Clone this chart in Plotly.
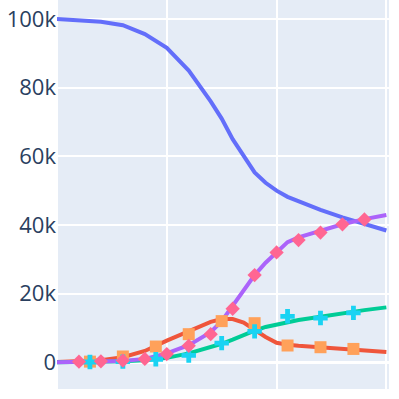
import plotly.graph_objects as go

# model curves (x in days)
x_line = [0, 10, 20, 30, 40, 50, 60, 70, 75, 80, 85, 90, 95, 100, 105, 110, 120, 130, 140, 150]
susceptible = [100000, 99700, 99200, 98200, 95600, 91600, 85000, 76000, 71000, 65000, 60000, 55300, 52300, 50000, 48200, 46900, 44400, 42200, 40200, 38400]
infected = [100, 300, 600, 1500, 3300, 6300, 9200, 11800, 12600, 12600, 11600, 9500, 7400, 5700, 5100, 4800, 4400, 4000, 3500, 3000]
recovered = [0, 50, 100, 300, 600, 1300, 2600, 4300, 5400, 6600, 8000, 9200, 10300, 11000, 11700, 12300, 13300, 14300, 15200, 16000]
dead = [0, 100, 200, 400, 1000, 2600, 5000, 8800, 12000, 16400, 21000, 25400, 29000, 32200, 35000, 36400, 38300, 40200, 41700, 42900]

# observed data
x_obs15 = [15, 30, 45, 60, 75, 90, 105, 120, 135]
infected_obs = [200, 1700, 4600, 8200, 12000, 11400, 4900, 4400, 3900]
recovered_obs = [100, 200, 900, 2000, 5600, 9000, 13400, 12900, 14400]
x_obs10 = [10, 20, 30, 40, 50, 60, 70, 80, 90, 100, 110, 120, 130, 140]
dead_obs = [200, 300, 500, 1000, 2400, 4800, 8200, 15600, 25400, 32000, 35600, 37800, 40200, 41600]

fig = go.Figure()
fig.add_trace(go.Scatter(x=x_line, y=susceptible, mode="lines", line=dict(color="#636EFA", width=4)))
fig.add_trace(go.Scatter(x=x_line, y=infected, mode="lines", line=dict(color="#EF553B", width=4)))
fig.add_trace(go.Scatter(x=x_line, y=recovered, mode="lines", line=dict(color="#00CC96", width=4)))
fig.add_trace(go.Scatter(x=x_line, y=dead, mode="lines", line=dict(color="#AB63FA", width=4)))
fig.add_trace(go.Scatter(x=x_obs15, y=infected_obs, mode="markers",
                         marker=dict(color="#FFA15A", symbol="square", size=12)))
fig.add_trace(go.Scatter(x=x_obs15, y=recovered_obs, mode="markers",
                         marker=dict(color="#19D3F3", symbol="cross", size=12)))
fig.add_trace(go.Scatter(x=x_obs10, y=dead_obs, mode="markers",
                         marker=dict(color="#FF6692", symbol="diamond", size=11)))

fig.update_layout(
    width=399, height=399,
    template="plotly",
    showlegend=False,
    margin=dict(l=57, r=10, t=0, b=10, autoexpand=False),
    font=dict(size=22),
)
fig.update_xaxes(range=[0, 151.2], showticklabels=False, dtick=50, gridwidth=2)
fig.update_yaxes(range=[-7770, 105530], dtick=20000, gridwidth=2, zerolinewidth=3)
# page without the default body margin so the plot sits flush with the window
fig.write_html("out.html", config={"displayModeBar": False},
               post_script="document.body.style.margin='0px';")
